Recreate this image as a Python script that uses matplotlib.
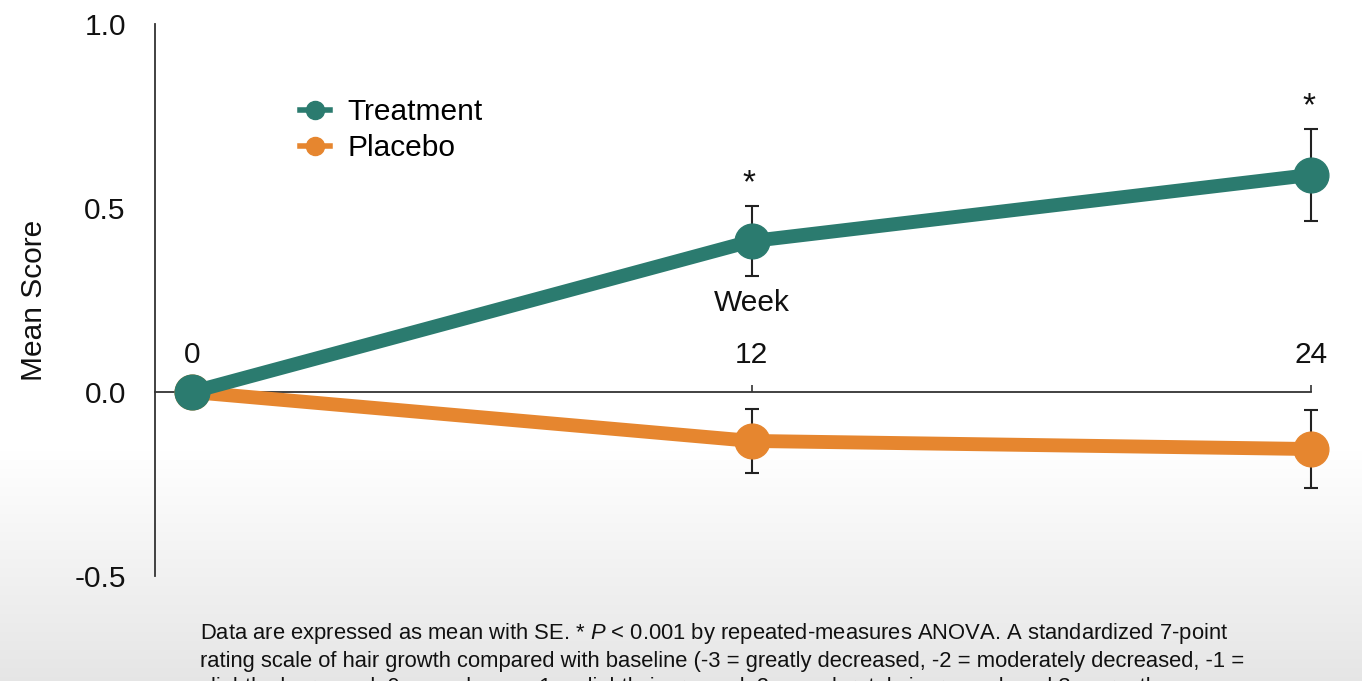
import numpy as np
import matplotlib
matplotlib.use("Agg")
import matplotlib.pyplot as plt
from matplotlib.lines import Line2D

weeks = [0, 12, 24]
treatment = [0.0, 0.41, 0.59]
treatment_se = [0.0, 0.095, 0.125]
placebo = [0.0, -0.133, -0.155]
placebo_se = [0.0, 0.088, 0.106]
sig_weeks = [12, 24]
x_ticks = [0, 12, 24]
y_ticks = [-0.5, 0.0, 0.5, 1.0]
y_ticklabels = ["-0.5", "0.0", "0.5", "1.0"]

caption = [
    r"Data are expressed as mean with SE. * $\it{P}$ < 0.001 by repeated-measures ANOVA. A standardized 7-point",
    "rating scale of hair growth compared with baseline (-3 = greatly decreased, -2 = moderately decreased, -1 =",
    "slightly decreased, 0 = no change, 1 = slightly increased, 2 = moderately increased, and 3 = greatly",
]

TEAL = "#2b7b6f"
ORANGE = "#e6862f"
plt.rcParams['font.family'] = ['Liberation Sans', 'DejaVu Sans']
plt.rcParams['mathtext.fontset'] = 'custom'
plt.rcParams['mathtext.it'] = 'Liberation Sans:italic'
plt.rcParams['mathtext.rm'] = 'Liberation Sans'

fig = plt.figure(figsize=(13.62, 6.81), dpi=100)

# background gradient
bg = fig.add_axes([0, 0, 1, 1], zorder=-10)
H = 681
yy = np.arange(H)
start = 450
g = np.clip((yy - start) / (H - start), 0, 1)
vals = 1.0 - 0.10 * g
img = np.repeat(np.stack([vals, vals, vals], axis=-1)[:, None, :], 2, axis=1)
bg.imshow(img, aspect='auto', extent=[0, 1, 0, 1], origin='upper')
bg.set_axis_off()

# main axes: y 1.0 at px 24, -0.5 at px 576; x 0 at px 192, 24 at px 1311
px_per_week = (1311 - 192) / 24
xmin = (155 - 192) / px_per_week
xmax = (1360 - 192) / px_per_week
ax = fig.add_axes([155 / 1362, 1 - 576 / 681, (1360 - 155) / 1362, (576 - 24) / 681])
ax.patch.set_alpha(0)
ax.set_xlim(xmin, xmax)
ax.set_ylim(-0.5, 1.0)

for s in ['top', 'right']:
    ax.spines[s].set_visible(False)
ax.spines['left'].set_color('#333333')
ax.spines['left'].set_linewidth(1.3)
ax.spines['bottom'].set_position(('data', 0))
ax.spines['bottom'].set_bounds(xmin, 24)
ax.spines['bottom'].set_color('#333333')
ax.spines['bottom'].set_linewidth(1.3)

ax.set_xticks(x_ticks)
ax.set_xticklabels([str(w) for w in x_ticks])
ax.tick_params(axis='x', direction='in', length=5, width=1.2, color='#333333',
               pad=-37, labelsize=21.5, labelcolor='#111111')
ax.set_yticks(y_ticks)
ax.set_yticklabels(y_ticklabels)
ax.tick_params(axis='y', length=0, pad=21, labelsize=21.5, labelcolor='#111111')

ax.errorbar(weeks, placebo, yerr=placebo_se, color=ORANGE, lw=10, marker='o',
            markersize=25, ecolor='#222222', elinewidth=1.5, capsize=5, capthick=1.5,
            label='Placebo', zorder=3)
ax.errorbar(weeks, treatment, yerr=treatment_se, color=TEAL, lw=10, marker='o',
            markersize=25, ecolor='#222222', elinewidth=1.5, capsize=5, capthick=1.5,
            label='Treatment', zorder=4)

for w in sig_weeks:
    i = weeks.index(w)
    ax.text(w - 0.05, treatment[i] + treatment_se[i] + 0.06, "*", ha='center', va='center',
            fontsize=24, color='#111111')

ax.text(12, 0.242, "Week", ha='center', va='center', fontsize=21.5, color='#111111')
ax.set_ylabel("Mean Score", fontsize=21.5, color='#111111')
ax.yaxis.set_label_coords((48 - 155) / 1205, (576 - 300) / 552)

handles = [Line2D([], [], color=TEAL, lw=4, marker='o', markersize=13),
           Line2D([], [], color=ORANGE, lw=4, marker='o', markersize=13)]
ax.legend(handles, ['Treatment', 'Placebo'], loc='upper left',
          bbox_to_anchor=((300 - 155) / 1205, 1 - (98 - 24) / 552), frameon=False,
          fontsize=21.5, handlelength=1.0, handletextpad=0.6, labelspacing=0.28,
          borderpad=0, borderaxespad=0)

for k, line in enumerate(caption):
    fig.text(200 / 1362, 1 - (634 + 27 * k) / 681, line, ha='left', va='center',
             fontsize=15.8, color='#111111')

fig.savefig("out.png", dpi=100)
